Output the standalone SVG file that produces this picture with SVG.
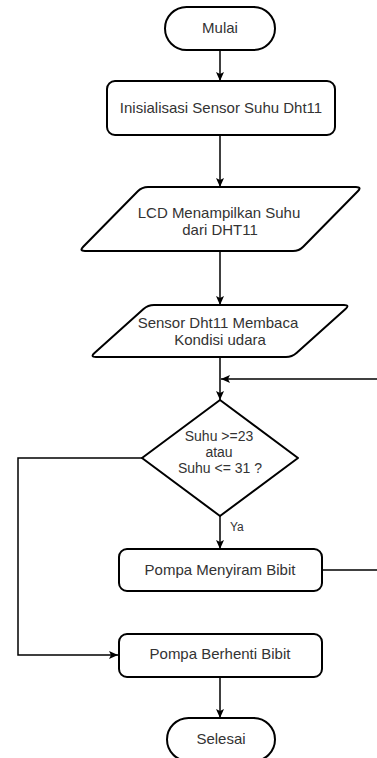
<svg xmlns="http://www.w3.org/2000/svg" width="377" height="758" viewBox="0 0 377 758">
<style>
.shape{fill:#fff;stroke:#000;stroke-width:2}
.t{font-family:"Liberation Sans",Arial,sans-serif;font-size:15px;fill:#333;text-anchor:middle}
.td{font-family:"Liberation Sans",Arial,sans-serif;font-size:14px;fill:#333;text-anchor:middle}
.lbl{font-family:"Liberation Sans",Arial,sans-serif;font-size:12px;fill:#333}
.edge{fill:none;stroke:#000;stroke-width:1.5}
</style>
<defs>
<marker id="arr" viewBox="0 0 10 10" refX="9" refY="5" markerWidth="10" markerHeight="10" markerUnits="userSpaceOnUse" orient="auto">
<path d="M0,1 L9,5 L0,9 L2,5 Z" fill="#000"/>
</marker>
</defs>
<rect width="377" height="758" fill="#fff"/>
<g id="connectors">
<line class="edge" x1="220" y1="50" x2="220" y2="81" marker-end="url(#arr)"/>
<line class="edge" x1="220" y1="135" x2="220" y2="187" marker-end="url(#arr)"/>
<line class="edge" x1="220" y1="251" x2="220" y2="305" marker-end="url(#arr)"/>
<line class="edge" x1="220" y1="357" x2="220" y2="400" marker-end="url(#arr)"/>
<line class="edge" x1="377" y1="379" x2="221" y2="379" marker-end="url(#arr)"/>
<line class="edge" x1="220" y1="516" x2="220" y2="549" marker-end="url(#arr)"/>
<text class="lbl" x="230" y="531">Ya</text>
<polyline class="edge" points="142,458 18,458 18,655 118,655" marker-end="url(#arr)"/>
<line class="edge" x1="322" y1="570" x2="377" y2="570"/>
<line class="edge" x1="220" y1="677" x2="220" y2="718" marker-end="url(#arr)"/>
</g>
<g id="mulai">
<rect class="shape" x="165" y="7" width="110" height="43" rx="21.5"/>
<text class="t" x="220" y="33">Mulai</text>
</g>
<g id="init">
<rect class="shape" x="107" y="81" width="228" height="54" rx="8"/>
<text class="t" x="221" y="113">Inisialisasi Sensor Suhu Dht11</text>
</g>
<g id="lcd">
<path class="shape" d="M148,187 L356,187 Q362,187 357.8,191.3 L303.2,246.7 Q299,251 293,251 L85,251 Q79,251 83.2,246.7 L137.8,191.3 Q142,187 148,187 Z"/>
<text class="t" x="219" y="218">LCD Menampilkan Suhu</text>
<text class="t" x="220" y="235">dari DHT11</text>
</g>
<g id="sensor">
<path class="shape" d="M154,305 L344,305 Q350,305 345.5,309 L296.5,353 Q292,357 286,357 L96,357 Q90,357 94.5,353 L143.5,309 Q148,305 154,305 Z"/>
<text class="t" x="218" y="328">Sensor Dht11 Membaca</text>
<text class="t" x="220" y="345">Kondisi udara</text>
</g>
<g id="decision">
<polygon class="shape" points="220,400 298,458 220,516 142,458" stroke-linejoin="round"/>
<text class="td" x="219" y="441">Suhu &gt;=23</text>
<text class="td" x="219" y="457">atau</text>
<text class="td" x="220" y="473">Suhu &lt;= 31 ?</text>
</g>
<g id="menyiram">
<rect class="shape" x="119" y="549" width="203" height="42" rx="8"/>
<text class="t" x="220" y="575">Pompa Menyiram Bibit</text>
</g>
<g id="berhenti">
<rect class="shape" x="119" y="634" width="203" height="43" rx="8"/>
<text class="t" x="220" y="659">Pompa Berhenti Bibit</text>
</g>
<g id="selesai">
<rect class="shape" x="167" y="718" width="108" height="43" rx="21.5"/>
<text class="t" x="221" y="744">Selesai</text>
</g>
</svg>
